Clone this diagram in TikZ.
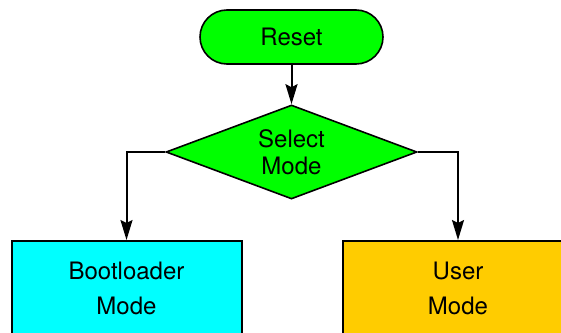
\documentclass[tikz,border=0pt]{standalone}
\usepackage{fontspec}
\setmainfont{TeX Gyre Heros}
\usetikzlibrary{arrows.meta}
\usetikzlibrary{shapes.geometric}
\definecolor{resetgreen}{RGB}{0,255,0}
\definecolor{bootcyan}{RGB}{0,255,255}
\definecolor{useryellow}{RGB}{255,204,0}
\tikzset{
  flowarrow/.style={line width=1pt, -{Stealth[length=10pt,width=6pt,inset=1.5pt]}},
  modebox/.style={draw, line width=1pt, minimum width=115pt, minimum height=47pt,
    align=center, font=\fontsize{12}{17.5}\selectfont},
}

\begin{document}
\begin{tikzpicture}[x=0.5pt, y=-0.5pt]
    \useasboundingbox (0,0) rectangle (561,332);
    \node [draw, line width=0.8pt, fill=resetgreen, rounded corners=13.5pt,
      minimum width=91.5pt, minimum height=27pt,
      font=\fontsize{12}{14}\selectfont] (reset) at (291.5, 37) {Reset};
    \node [draw, line width=0.8pt, fill=resetgreen, diamond, aspect=2.67,
      minimum width=125.5pt, minimum height=47pt, inner sep=0pt,
      align=center, font=\fontsize{12}{13.5}\selectfont]
      (select) at (291.5, 152) {Select\\Mode};

    \node [modebox, fill=bootcyan] (boot) at (126.5, 288) {Bootloader\\Mode};
    \node [modebox, fill=useryellow] (user) at (458, 288) {User\\Mode};

    \draw [flowarrow] (reset) -- (select);
    \draw [flowarrow] (select.west) -| (boot.north);
    \draw [flowarrow] (select.east) -| (user.north);
  \end{tikzpicture}
\end{document}
